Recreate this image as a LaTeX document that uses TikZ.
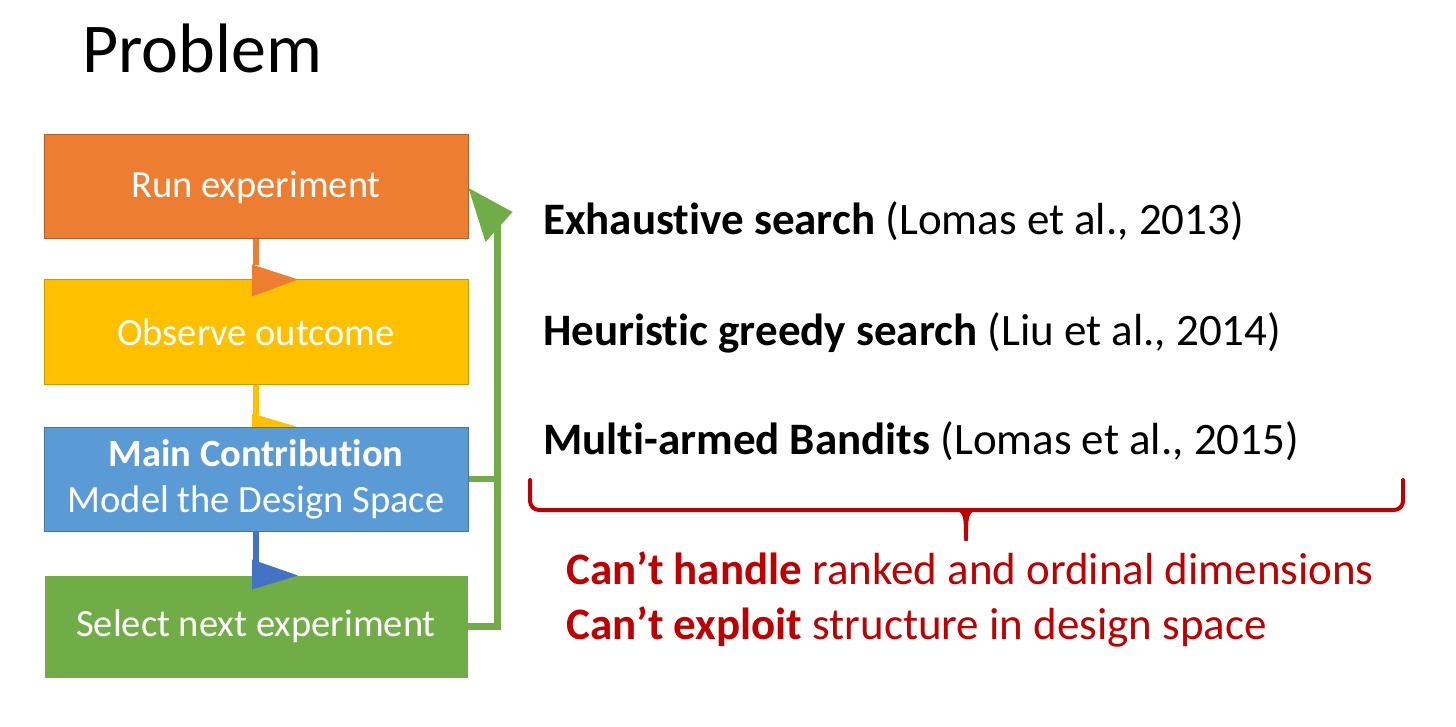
\documentclass[tikz,border=0pt]{standalone}
\usepackage{fontspec}
\setmainfont[RawFeature={-liga;-clig;-calt}]{Carlito}
\usepackage{xcolor}
\usepackage{tikz}
\usetikzlibrary{positioning,calc}

\definecolor{boxorange}{HTML}{ED7D31}
\definecolor{boxyellow}{HTML}{FFC000}
\definecolor{boxblue}{HTML}{5B9BD5}
\definecolor{boxgreen}{HTML}{70AD47}
\definecolor{linkblue}{HTML}{4472C4}
\definecolor{darkred}{HTML}{C00000}

\tikzset{
  stepbox/.style={rectangle, minimum width=424pt, minimum height=104pt, inner sep=0pt,
    text=white, align=center, line width=1pt, font=\fontsize{38.5}{46}\selectfont},
  listtext/.style={anchor=base west, inner sep=0pt, font=\fontsize{45}{52}\selectfont},
  redtext/.style={listtext, text=darkred},
  link/.style={line width=6.5pt},
  bracestyle/.style={draw=darkred, line width=4pt, line cap=round}
}

\begin{document}
\begin{tikzpicture}[x=1pt, y=-1pt]
  \useasboundingbox (0,0) rectangle (1456,727);

  \node[anchor=base west, inner sep=0pt, font=\fontsize{70}{82}\selectfont] (title) at (82,73) {Problem};

  \node[stepbox, fill=boxorange, draw=boxorange!75!black] (run) at (256,187) {Run experiment};
  \node[stepbox, fill=boxyellow, draw=boxyellow!80!black, below=40pt of run] (observe) {Observe outcome};

  % orange link lies on top of the yellow box
  \draw[link, boxorange] (run.south) -- ($(observe.north)+(0,-14)$);
  \fill[boxorange] ($(observe.north)+(-4,-15)$) -- ($(observe.north)+(42,0)$)
                   -- ($(observe.north)+(-4,17)$) -- cycle;

  % yellow link sits under the blue box
  \draw[link, boxyellow] (observe.south) -- ($(observe.south)+(0,30)$);
  \fill[boxyellow] ($(observe.south)+(-4,29)$) -- ($(observe.south)+(40,42)$)
                   -- ($(observe.south)+(-4,58)$) -- cycle;

  \node[stepbox, fill=boxblue, draw=boxblue!75!black, below=42pt of observe] (model)
       {\textbf{Main Contribution}\\Model the Design Space};
  \node[stepbox, minimum width=422pt, minimum height=101pt, fill=boxgreen, draw=boxgreen,
        below=44pt of model] (select) {Select next experiment};

  \draw[link, linkblue] (model.south) -- ($(select.north)+(0,-14)$);
  \fill[linkblue] ($(select.north)+(-4,-16)$) -- ($(select.north)+(42,0)$)
                  -- ($(select.north)+(-4,14)$) -- cycle;

  % feedback loop back to the first step
  \coordinate (loopdown) at ($(select.east)+(30,0)$);
  \coordinate (looptop) at ($(run.east)+(29,38)$);
  \draw[link, boxgreen] (select.east) -- (loopdown) -- (looptop);
  \draw[link, boxgreen] (model.east) -- (model.east -| loopdown);
  \fill[boxgreen] ($(run.east)+(0,1)$) -- ($(run.east)+(44,25)$)
                  -- ($(run.east)+(17,55)$) -- cycle;

  \node[listtext] (exh) at (543,235) {\textbf{Exhaustive search} (Lomas et al., 2013)};
  \node[listtext] (heur) at (543,345) {\textbf{Heuristic greedy search} (Liu et al., 2014)};
  \node[listtext] (mab) at (543,454) {\textbf{Multi-armed Bandits} (Lomas et al., 2015)};

  \coordinate (braceL) at (530,480);
  \coordinate (braceR) at (1403,480);
  \coordinate (braceTip) at (966,540);
  \draw[bracestyle, rounded corners=9pt] (braceL) -- (530,510) -- (1403,510) -- (braceR);
  \filldraw[bracestyle, fill=darkred, line width=1.5pt]
    (950,509) .. controls (961,509) and (964,513) .. (964.5,524) -- (965,540)
    -- (967,540) -- (967.5,524) .. controls (968,513) and (971,509) .. (982,509) -- cycle;

  \node[redtext] (handle) at (566,584) {\textbf{Can’t handle} ranked and ordinal dimensions};
  \node[redtext] (exploit) at (566,639) {\textbf{Can’t exploit} structure in design space};
\end{tikzpicture}
\end{document}
